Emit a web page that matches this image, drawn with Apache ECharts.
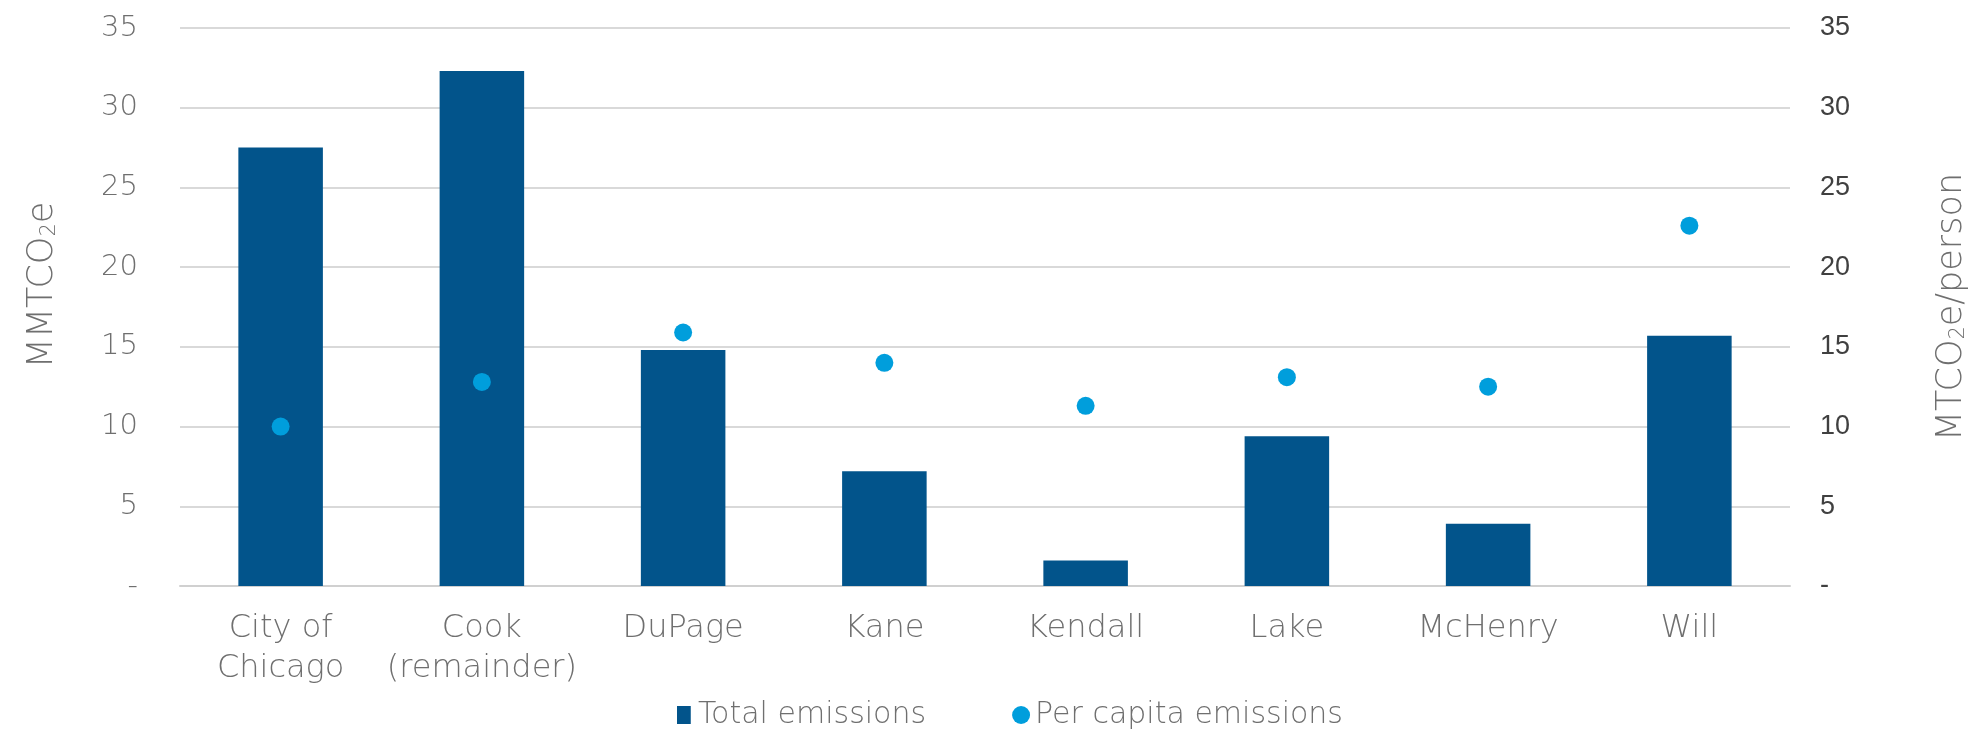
<!DOCTYPE html>
<html>
<head>
<meta charset="utf-8">
<script src="https://cdn.jsdelivr.net/npm/echarts@6/dist/echarts.min.js"></script>
<style>
  html, body { margin: 0; padding: 0; background: #fff; }
  #chart { width: 1977px; height: 732px; }
</style>
</head>
<body>
<div id="chart"></div>
<script>
// 数据
const categories = ['City of\nChicago', 'Cook\n(remainder)', 'DuPage', 'Kane', 'Kendall', 'Lake', 'McHenry', 'Will'];
const totalEmissions = [27.5, 32.3, 14.8, 7.2, 1.6, 9.4, 3.9, 15.7];
const perCapita = [10.0, 12.8, 15.9, 14.0, 11.3, 13.1, 12.5, 22.6];
const axisMax = 35;
const axisStep = 5;

// 类似 Century Gothic 的宽字体
const gothic = '"DejaVu Sans", sans-serif';
const grey = '#6f6f6f';
const zeroDash = v => (v === 0 ? '-' : v);

const titleRich = {
  a: { color: grey, fontFamily: gothic, fontWeight: 200, fontSize: 35 },
  s: { color: grey, fontFamily: gothic, fontWeight: 200, fontSize: 21, padding: [14, 0, 0, 0] }
};

const chart = echarts.init(document.getElementById('chart'));

chart.setOption({
  animation: false,
  grid: { left: 180, right: 187, top: 28, bottom: 146, containLabel: false },
  legend: {
    top: 695,
    left: 672,
    itemGap: 86,
    itemWidth: 18,
    itemHeight: 18,
    textStyle: { color: grey, fontFamily: gothic, fontWeight: 200, fontSize: 30 },
    data: [
      { name: 'Total emissions', icon: 'path://M0 0H13V17H0Z' },
      { name: 'Per capita emissions', icon: 'circle' }
    ]
  },
  xAxis: {
    type: 'category',
    data: categories,
    axisTick: { show: false },
    axisLine: { lineStyle: { color: '#d0d0d0', width: 2 } },
    axisLabel: {
      color: grey,
      fontFamily: gothic,
      fontWeight: 200,
      fontSize: 32,
      lineHeight: 40,
      margin: 23,
      interval: 0
    }
  },
  yAxis: [
    {
      type: 'value',
      min: 0,
      max: axisMax,
      interval: axisStep,
      name: '{a|MMTCO}{s|2}{a|e}',
      nameLocation: 'middle',
      nameGap: 120,
      nameRotate: 90,
      nameTextStyle: { rich: titleRich, padding: [0, 0, 0, 44] },
      axisLabel: {
        color: grey,
        fontFamily: gothic,
        fontWeight: 200,
        fontSize: 29,
        margin: 42,
        formatter: zeroDash
      },
      splitLine: { lineStyle: { color: '#d9d9d9', width: 2 } }
    },
    {
      type: 'value',
      min: 0,
      max: axisMax,
      interval: axisStep,
      position: 'right',
      name: '{a|MTCO}{s|2}{a|e/person}',
      nameLocation: 'middle',
      nameGap: 144,
      nameRotate: 90,
      nameTextStyle: { rich: titleRich },
      axisLabel: {
        color: '#404040',
        fontFamily: '"Liberation Sans", Arial, sans-serif',
        fontSize: 27,
        margin: 30,
        formatter: zeroDash
      },
      splitLine: { show: false }
    }
  ],
  series: [
    {
      name: 'Total emissions',
      type: 'bar',
      data: totalEmissions,
      yAxisIndex: 0,
      barCategoryGap: '58%',
      itemStyle: { color: '#02548b' }
    },
    {
      name: 'Per capita emissions',
      type: 'scatter',
      data: perCapita,
      yAxisIndex: 1,
      symbol: 'circle',
      symbolSize: 18,
      itemStyle: { color: '#009edc', opacity: 1 }
    }
  ]
});
</script>
</body>
</html>
